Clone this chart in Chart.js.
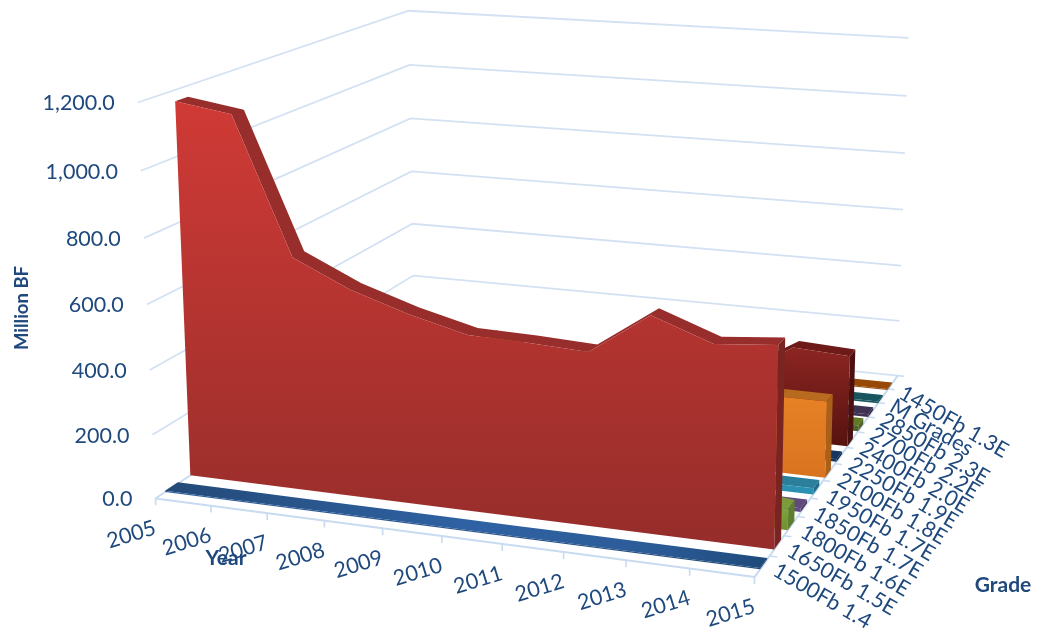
<!DOCTYPE html>
<html><head><meta charset="utf-8">
<style>html,body{margin:0;padding:0;background:#fff}canvas{display:block}</style>
<script src="https://cdn.jsdelivr.net/npm/chart.js@4"></script>
</head><body><canvas id="c" width="1038" height="633"></canvas>
<script>
const years = ['2005','2006','2007','2008','2009','2010','2011','2012','2013','2014','2015'];
const grades = ['1500Fb 1.4','1650Fb 1.5E','1800Fb 1.6E','1850Fb 1.7E','1950Fb 1.7E','2100Fb 1.8E','2250Fb 1.9E','2400Fb 2.0E','2700Fb 2.2E','2850Fb 2.3E','M Grades','1450Fb 1.3E'];
const valueTicks = [0,200,400,600,800,1000,1200];
const s1500 = [4,4,4,4,4,4,4,4,4,4,4];
const s1650 = [1166,1139,722,640,583,538,533,524,650,584,600];
const s1800 = [20,25,30,35,40,40,45,50,60,85,65];
const s1850 = [5,5,6,6,8,8,8,10,10,12,12];
const s1950 = [8,8,10,12,12,14,15,16,18,20,20];
const s2100 = [100,120,180,260,342,280,270,260,270,245,245];
const s2250 = [4,4,4,5,5,6,6,7,8,8,8];
const s2400 = [60,60,70,80,100,130,150,160,200,310,300];
const s2700 = [5,5,8,10,12,12,14,15,18,20,20];
const s2850 = [4,4,5,5,6,6,7,8,9,10,10];
const sMGrades = [3,3,4,4,4,5,5,5,5,6,6];
const s1450 = [2,2,2,3,3,3,3,3,4,4,4];
const seriesValues = [s1500,s1650,s1800,s1850,s1950,s2100,s2250,s2400,s2700,s2850,sMGrades,s1450];
const faceColors = [
 ['#2f5f9e','#234a78','#25507f','#1b3f66'],['#d03a36','#952d2a','#982e2b','#7a2422'],
 ['#a6d04f','#6e9134','#7b9b3c','#5f7d2e'],['#7e5fa6','#64498a','#604a7b','#4e3b66'],
 ['#33acd0','#2a8fb0','#2b7f9b','#1f6f88'],['#f28c2b','#d9731f','#b86a1e','#a8601a'],
 ['#1f4a6e','#17375e','#17375e','#122b4a'],['#8c2522','#56130f','#6d1a18','#4a1110'],
 ['#6a8a25','#4f6228','#5f7a22','#4f6228'],['#5c4580','#3f3151','#3f3151','#33284a'],
 ['#1f6b7e','#17565f','#17565f','#124650'],['#c05a10','#974806','#974806','#7d3c05']];

/* axis-box calibration: [year fraction, value fraction, grade fraction, px, py] */
const boxCorners = [[0,0,0,156,498],[0,1,0,137,100],[0,0,1,413,328],[0,1,1,410,12],[1,0,1,898,375],[1,1,1,908,36],[1,0,0,755,577],[1,1,0,762,150]];
function solve(A,b){const n=b.length,M=A.map((r,i)=>[...r,b[i]]);
 for(let i=0;i<n;i++){let p=i;for(let r=i+1;r<n;r++)if(Math.abs(M[r][i])>Math.abs(M[p][i]))p=r;[M[i],M[p]]=[M[p],M[i]];
  for(let r=0;r<n;r++){if(r===i)continue;const f=M[r][i]/M[i][i];for(let c=i;c<=n;c++)M[r][c]-=f*M[i][c];}}
 return M.map((r,i)=>r[n]/r[i]);}
const H=(()=>{const rows=[],rhs=[];
 for(const [u,v,w,x,y] of boxCorners){rows.push([u,v,w,1,0,0,0,0,-x*u,-x*v,-x*w]);rhs.push(x);rows.push([0,0,0,0,u,v,w,1,-y*u,-y*v,-y*w]);rhs.push(y);}
 const n=11,A=Array.from({length:n},()=>Array(n).fill(0)),b=Array(n).fill(0);
 rows.forEach((r,k)=>{for(let i=0;i<n;i++){b[i]+=r[i]*rhs[k];for(let j=0;j<n;j++)A[i][j]+=r[i]*r[j];}});
 return solve(A,b);})();
const vMax=1200;
function P(u,val,w){const v=val/vMax,d=H[8]*u+H[9]*v+H[10]*w+1;
 return {x:(H[0]*u+H[1]*v+H[2]*w+H[3])/d,y:(H[4]*u+H[5]*v+H[6]*w+H[7])/d};}

const rowStart=0.03,rowStep=0.08,rowDepth=0.04;
const uOf=i=>i/(years.length-1);
const datasets=[];
function poly(points,fill){datasets.push({data:points,showLine:true,pointRadius:0,borderWidth:0,fill:'shape',backgroundColor:fill,order:-datasets.length});}
function stroke(points,color,width){datasets.push({data:points,showLine:true,pointRadius:0,borderColor:color,borderWidth:width,fill:false,order:-datasets.length});}
function vGrad(top,bottom,y0,y1){return c=>{const g=c.chart.ctx.createLinearGradient(0,y0,0,y1);g.addColorStop(0,top);g.addColorStop(1,bottom);return g;};}
const gridColor='#d3e1f3',axisColor='#c9dbf1';
valueTicks.forEach(val=>{if(val>0)stroke([P(0,val,0),P(0,val,1),P(1,val,1)],gridColor,1.8);});
stroke([P(0,0,1),P(1,0,1)],gridColor,1.8);
stroke([P(0,0,0),P(0,0,1)],axisColor,2);
stroke([P(0,0,0),P(1,0,0)],axisColor,2);
stroke([P(1,0,0),P(1,0,1)],axisColor,2);
years.forEach((y,i)=>stroke([P(uOf(i),0,0),P(uOf(i),-21,0)],axisColor,1.6));
grades.forEach((g,i)=>stroke([P(1,0,(i+1)/grades.length),P(1.012,0,(i+1)/grades.length)],axisColor,1.6));

for(let r=seriesValues.length-1;r>=0;r--){
 const vals=seriesValues[r],w1=rowStart+rowStep*r,w2=w1+rowDepth,[ct,cb,cs,cd]=faceColors[r];
 const f=vals.map((v,i)=>P(uOf(i),v,w1)),b=vals.map((v,i)=>P(uOf(i),v,w2));
 const last=vals.length-1;
 let stripFill=cs;
 if(r===0)stripFill=c=>{const g=c.chart.ctx.createLinearGradient(165,0,765,0);g.addColorStop(0,'#234a78');g.addColorStop(.5,'#2f62a3');g.addColorStop(.8,'#2c5c98');g.addColorStop(1,'#1f4a7c');return g;};
 poly([...f,...b.slice().reverse()],stripFill);
 poly([P(1,0,w1),f[last],b[last],P(1,0,w2)],cd);
 const tops=Math.min(...f.map(p=>p.y)),base=P(1,0,w1).y;
 poly([P(0,0,w1),...f,P(1,0,w1)],vGrad(ct,cb,tops,base));
}

const textColor='#1f497d',fam='Lato, "Open Sans", sans-serif';
const labelsPlugin={id:'labels3d',afterDatasetsDraw(chart){const g=chart.ctx;const sx=chart.scales.x,sy=chart.scales.y;
 const at=p=>({x:sx.getPixelForValue(p.x),y:sy.getPixelForValue(p.y)});
 const txt=(s,x,y,rot,font,align)=>{g.save();g.translate(x,y);g.rotate(rot*Math.PI/180);g.font=font;g.fillStyle=textColor;g.textAlign=align;g.textBaseline='middle';g.fillText(s,0,0);g.restore();};
 const f=`21.5px ${fam}`;
 valueTicks.forEach(v=>{const p=at(P(0,v,0));const s=v.toLocaleString('en-US',{minimumFractionDigits:1,maximumFractionDigits:1});txt(s,p.x-23,p.y+1,0,f,'right');});
 years.forEach((y,i)=>{const p=at(P(uOf(i),0,0));txt(y,p.x-24,p.y+36,-17,f,'center');});
 grades.forEach((s,i)=>{const p=at(P(1,0,0.052+0.08*i));txt(s,p.x+11,p.y+5,30,f,'left');});
 txt('Year',226,558,0,`bold 21px ${fam}`,'center');
 txt('Grade',1003,585,0,`bold 21px ${fam}`,'center');
 txt('Million BF',22,308,-90,`bold 18.5px ${fam}`,'center');
}};
new Chart(document.getElementById('c'),{type:'scatter',data:{datasets},plugins:[labelsPlugin],options:{
 responsive:false,animation:false,events:[],layout:{padding:0},
 plugins:{legend:{display:false},tooltip:{enabled:false},title:{display:false}},
 scales:{x:{type:'linear',min:0,max:1038,display:false},y:{type:'linear',min:0,max:633,reverse:true,display:false}}}});
</script></body></html>
